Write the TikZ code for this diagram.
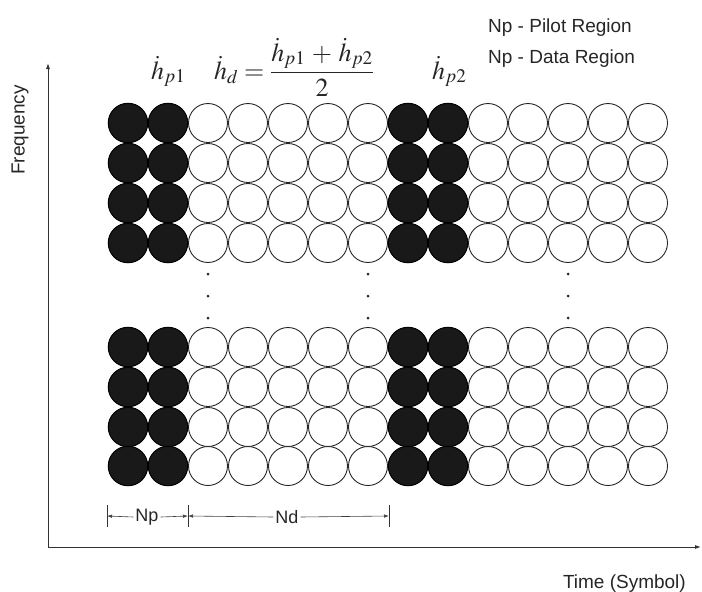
\documentclass[tikz,border=0pt]{standalone}
\usepackage{mathptmx}
\usepackage{fontspec}
\setmainfont{Liberation Serif}
\setsansfont{Liberation Sans}
\usetikzlibrary{arrows.meta}
\begin{document}
\begin{tikzpicture}[x=1pt,y=-1pt,
  pil/.style={circle,draw=black,fill=black!90,line width=1pt,minimum size=39.5pt,inner sep=0pt},
  dat/.style={circle,draw=black!85,fill=white,line width=0.9pt,minimum size=39pt,inner sep=0pt},
  lbl/.style={font=\sffamily\fontsize{19}{22}\selectfont,inner sep=0pt,text=black!85},
  dimlbl/.style={font=\sffamily\fontsize{18}{20}\selectfont,inner sep=2pt,text=black!85},
  mth/.style={font=\fontsize{26}{30}\selectfont,inner sep=0pt,anchor=base west,text=black!85},
  axisline/.style={line width=0.9pt,draw=black!80,{Latex[length=6pt,width=4pt]}-{Latex[length=6pt,width=4pt]}},
  dimline/.style={line width=0.6pt,draw=black!75,-{Latex[length=5pt,width=3.5pt]}},
  tick/.style={line width=0.8pt,draw=black!80},
  vdot/.style={circle,fill=black!85,inner sep=0pt,minimum size=3pt}]
\useasboundingbox (0,0) rectangle (702,592);
% circles
\foreach \row/\yy in {1/123,2/163,3/203,4/243,5/347,6/387,7/427,8/466}{
  \foreach \col in {2,3,4,5,6,9,10,11,12,13}{
    \node[dat] (c-\row-\col) at ({128+40*\col},\yy) {};
  }
  \foreach \col in {0,1,7,8}{
    \node[pil] (c-\row-\col) at ({128+40*\col},\yy) {};
  }
}
% vertical dots
\foreach \col in {2,6,11}{
  \foreach \k/\yy in {1/274,2/296,3/318}{
    \node[vdot] (d-\col-\k) at ({128+40*\col},\yy) {};
  }
}
% axes
\coordinate (ytop) at (48,63);
\coordinate (orig) at (48,547);
\coordinate (xend) at (701,547);
\draw[axisline] (ytop) -- (orig) -- (xend);
\node[lbl,rotate=90] (freq) at (20,130) {Frequency};
\node[lbl,anchor=base east] (time) at (686,588) {Time (Symbol)};
% legend
\node[lbl,anchor=base west] (leg1) at (488,32) {Np - Pilot Region};
\node[lbl,anchor=base west] (leg2) at (488,63) {Np - Data Region};
% formulas
\node[mth] (hp1) at (151,79) {$\dot{h}_{p1}$};
\node[mth] (hd) at (214,79) {$\displaystyle\dot{h}_{d}=\frac{\dot{h}_{p1}\,+\,\dot{h}_{p2}}{2}$};
\node[mth] (hp2) at (432,79) {$\dot{h}_{p2}$};
% dimension line
\coordinate (t1) at (107,516);
\coordinate (t2) at (188,516);
\coordinate (t3) at (389,516);
\coordinate (t1a) at (107,505); \coordinate (t1b) at (107,527);
\coordinate (t2a) at (188,505); \coordinate (t2b) at (188,527);
\coordinate (t3a) at (389,505); \coordinate (t3b) at (389,527);
\draw[tick] (t1a) -- (t1b);
\draw[tick] (t2a) -- (t2b);
\draw[tick] (t3a) -- (t3b);
\node[dimlbl] (np) at (147,517) {Np};
\node[dimlbl] (nd) at (287,517) {Nd};
\draw[dimline] (np.west) -- (t1);
\draw[dimline] (np.east) -- (t2);
\draw[dimline] (nd.west) -- (t2);
\draw[dimline] (nd.east) -- (t3);
\end{tikzpicture}
\end{document}
